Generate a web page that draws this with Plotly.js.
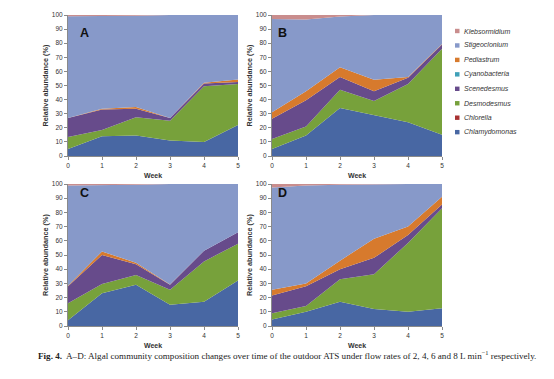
<!DOCTYPE html>
<html><head><meta charset="utf-8">
<script src="https://cdn.plot.ly/plotly-3.0.1.min.js"></script>
<style>html,body{margin:0;padding:0;background:#fff}#chart{width:554px;height:379px}</style>
</head><body><div id="chart"></div>
<script>
const weeks = [0, 1, 2, 3, 4, 5];
const tickWeeks = [0, 1, 2, 3, 4, 5];
const tickPct = [0, 10, 20, 30, 40, 50, 60, 70, 80, 90, 100];
// stacking order, bottom to top
const species = ['Chlamydomonas', 'Chlorella', 'Desmodesmus', 'Scenedesmus', 'Cyanobacteria', 'Pediastrum', 'Stigeoclonium', 'Klebsormidium'];
const colors = ['#4867a3', '#a83232', '#77a13b', '#674b8b', '#3fa0b8', '#d77a2d', '#8799c9', '#c98d8d'];
const panelLetters = ['A', 'B', 'C', 'D'];

// Panel A (2 L/min)
const chlamydomonasA = [5, 14, 14.5, 11, 10, 22];
const chlorellaA     = [0, 0, 0, 0, 0, 0];
const desmodesmusA   = [8.5, 4.5, 13, 14, 39.5, 29];
const scenedesmusA   = [13.5, 14.5, 6, 2, 2, 1.5];
const cyanobacteriaA = [0, 0, 0, 0, 0, 0];
const pediastrumA    = [0, 0.5, 1.2, 0, 0.5, 1.8];
const stigeocloniumA = [72.2, 65.7, 64.8, 73, 48, 45.7];
const klebsormidiumA = [0.8, 0.8, 0.5, 0, 0, 0];

// Panel B (4 L/min)
const chlamydomonasB = [5, 14.5, 34, 29, 24, 15];
const chlorellaB     = [0, 0, 0, 0, 0, 0];
const desmodesmusB   = [7, 6.5, 13, 10, 27, 61];
const scenedesmusB   = [14.5, 18.5, 9, 7, 4.5, 3];
const cyanobacteriaB = [0, 0, 0, 0, 0, 0];
const pediastrumB    = [4.5, 6.5, 7, 8, 0.5, 0.5];
const stigeocloniumB = [66.2, 50.8, 36, 46, 44, 20.5];
const klebsormidiumB = [2.8, 3.2, 1, 0, 0, 0];

// Panel C (6 L/min)
const chlamydomonasC = [4, 23, 29, 15, 17, 32];
const chlorellaC     = [0, 0, 0, 0, 0, 0];
const desmodesmusC   = [12, 6.5, 7, 10.5, 28.5, 26];
const scenedesmusC   = [12, 20.5, 7.5, 3.5, 7.5, 8];
const cyanobacteriaC = [0, 0, 0, 0, 0, 0];
const pediastrumC    = [0.3, 2.5, 1, 0.3, 0, 0];
const stigeocloniumC = [70.7, 46.5, 55, 70.7, 47, 34];
const klebsormidiumC = [1, 1, 0.5, 0, 0, 0];

// Panel D (8 L/min)
const chlamydomonasD = [4.5, 10, 17, 12, 10, 12.5];
const chlorellaD     = [0, 0, 0, 0, 0, 0];
const desmodesmusD   = [4.5, 4, 16, 24.5, 48.5, 70.5];
const scenedesmusD   = [12.5, 14, 7, 11.5, 5.5, 2.5];
const cyanobacteriaD = [0, 0, 0, 0, 0, 0];
const pediastrumD    = [4, 2, 6, 13.5, 6, 5.5];
const stigeocloniumD = [72, 69, 53.5, 38.5, 30, 9];
const klebsormidiumD = [2.5, 1, 0.5, 0, 0, 0];

const panelSeries = [
  [chlamydomonasA, chlorellaA, desmodesmusA, scenedesmusA, cyanobacteriaA, pediastrumA, stigeocloniumA, klebsormidiumA],
  [chlamydomonasB, chlorellaB, desmodesmusB, scenedesmusB, cyanobacteriaB, pediastrumB, stigeocloniumB, klebsormidiumB],
  [chlamydomonasC, chlorellaC, desmodesmusC, scenedesmusC, cyanobacteriaC, pediastrumC, stigeocloniumC, klebsormidiumC],
  [chlamydomonasD, chlorellaD, desmodesmusD, scenedesmusD, cyanobacteriaD, pediastrumD, stigeocloniumD, klebsormidiumD]
];

const W = 554, H = 379;
// plot boxes in pixels [x0, x1, y0(top), y1(bottom)]
const boxes = [[68, 238, 15, 156], [272, 442, 15, 156], [68, 238, 184, 326], [272, 442, 184, 326]];

const data = [];
const layout = {
  width: W, height: H, margin: {l: 0, r: 0, t: 0, b: 0},
  paper_bgcolor: '#fff', plot_bgcolor: '#fff', showlegend: false,
  font: {family: 'Liberation Sans, Arial, sans-serif', color: '#333'},
  annotations: [], shapes: []
};

boxes.forEach((b, p) => {
  const sfx = p === 0 ? '' : String(p + 1);
  const xa = 'x' + sfx, ya = 'y' + sfx;
  panelSeries[p].forEach((vals, i) => {
    data.push({
      type: 'scatter', mode: 'lines', x: weeks, y: vals, name: species[i],
      stackgroup: 'panel' + p, xaxis: xa, yaxis: ya,
      line: {width: 0, color: colors[i]}, fillcolor: colors[i], hoverinfo: 'skip'
    });
  });
  const axBase = {
    showgrid: false, zeroline: false, showline: true, linecolor: '#8a8a8a', linewidth: 1,
    ticks: 'outside', ticklen: 3, tickcolor: '#8a8a8a', tickfont: {size: 6.5, color: '#333'},
    fixedrange: true
  };
  layout['xaxis' + sfx] = Object.assign({}, axBase, {
    domain: [b[0] / W, b[1] / W], anchor: ya, range: [0, 5],
    tickvals: tickWeeks, ticktext: tickWeeks.map(String)
  });
  layout['yaxis' + sfx] = Object.assign({}, axBase, {
    domain: [1 - b[3] / H, 1 - b[2] / H], anchor: xa, range: [0, 100],
    tickvals: tickPct, ticktext: tickPct.map(String)
  });
  // panel letter
  layout.annotations.push({
    xref: 'paper', yref: 'paper', x: (b[0] + 10) / W, y: 1 - (b[2] + 9) / H,
    text: '<b>' + panelLetters[p] + '</b>', showarrow: false,
    font: {size: 12.5, color: '#111', family: 'Liberation Sans, Arial, sans-serif'}
  });
  // y title
  layout.annotations.push({
    xref: 'paper', yref: 'paper', x: (b[0] - 23) / W, y: 1 - ((b[2] + b[3]) / 2) / H,
    xanchor: 'center', yanchor: 'middle',
    text: '<b>Relative abundance (%)</b>', textangle: -90, showarrow: false,
    font: {size: 7.3, color: '#333'}
  });
  // x title
  layout.annotations.push({
    xref: 'paper', yref: 'paper', x: ((b[0] + b[1]) / 2) / W, y: 1 - (b[3] + 19.5) / H,
    xanchor: 'center', yanchor: 'middle',
    text: '<b>Week</b>', showarrow: false, font: {size: 7, color: '#333'}
  });
});

// custom legend (top to bottom = reverse of stacking)
const legendTop = 31, legendStep = 14.45;
for (let k = 0; k < species.length; k++) {
  const i = species.length - 1 - k;
  const yc = legendTop + k * legendStep;
  layout.shapes.push({
    type: 'rect', xref: 'paper', yref: 'paper',
    x0: 455 / W, x1: 459.5 / W, y0: 1 - (yc + 2.2) / H, y1: 1 - (yc - 2.2) / H,
    fillcolor: colors[i], line: {width: 0}
  });
  layout.annotations.push({
    xref: 'paper', yref: 'paper', x: 462 / W, y: 1 - yc / H, xanchor: 'left', yanchor: 'middle',
    text: '<i>' + species[i] + '</i>', showarrow: false, font: {size: 7, color: '#333'}
  });
}

// caption
layout.annotations.push({
  xref: 'paper', yref: 'paper', x: 287 / W, y: 1 - 355 / H, xanchor: 'center', yanchor: 'middle',
  text: '<b>Fig. 4.</b>  A–D: Algal community composition changes over time of the outdoor ATS under flow rates of 2, 4, 6 and 8 L min<sup>−1</sup> respectively.',
  showarrow: false, font: {size: 9.1, color: '#222', family: 'Liberation Serif, Times New Roman, serif'}
});

Plotly.newPlot('chart', data, layout, {staticPlot: true, displayModeBar: false});
</script>
</body></html>
